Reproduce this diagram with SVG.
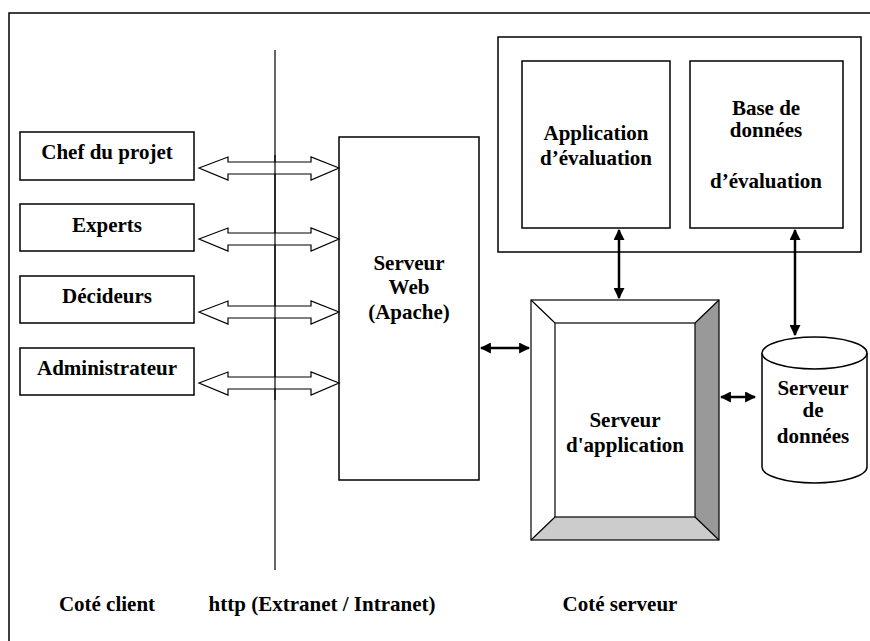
<svg xmlns="http://www.w3.org/2000/svg" width="870" height="641" viewBox="0 0 870 641">
<style>
text{font-weight:bold;font-size:21px;fill:#000;text-anchor:middle}
.box{fill:#fff;stroke:#000;stroke-width:1.5}
.thin{fill:none;stroke:#000;stroke-width:1.2}
.harrow{fill:#fff;stroke:#000;stroke-width:1.2;stroke-linejoin:miter}
.conn{fill:none;stroke:#000;stroke-width:2.5;marker-start:url(#ah);marker-end:url(#ah)}
</style>
<defs>
<marker id="ah" viewBox="0 0 10 10" refX="9" refY="5" markerWidth="4.4" markerHeight="4.4" orient="auto-start-reverse" markerUnits="strokeWidth">
<path d="M0,0 L10,5 L0,10 Z" fill="#000"/>
</marker>
</defs>
<rect id="frame" x="9" y="13" width="880" height="650" class="box"/>

<g id="client-chef"><rect x="20" y="132" width="174" height="48" class="box"/><text font-family="Liberation Serif" x="107" y="159">Chef du projet</text></g>
<g id="client-experts"><rect x="20" y="204" width="174" height="47" class="box"/><text font-family="Liberation Serif" x="107" y="232">Experts</text></g>
<g id="client-decideurs"><rect x="20" y="276" width="174" height="47" class="box"/><text font-family="Liberation Serif" x="107" y="303">Décideurs</text></g>
<g id="client-admin"><rect x="20" y="348" width="174" height="47" class="box"/><text font-family="Liberation Serif" x="107" y="375">Administrateur</text></g>

<g id="web-server"><rect x="339" y="137" width="140" height="343" class="box"/>
<text font-family="Liberation Serif" x="409" y="270">Serveur</text><text font-family="Liberation Serif" x="409" y="294">Web</text><text font-family="Liberation Serif" x="409" y="319">(Apache)</text></g>

<g id="eval-group"><rect x="498" y="37" width="363" height="215" class="box"/></g>
<g id="app-eval"><rect x="522" y="61" width="148" height="167" class="box"/>
<text font-family="Liberation Serif" x="596" y="140">Application</text><text font-family="Liberation Serif" x="596" y="165">d’évaluation</text></g>
<g id="db-eval"><rect x="690" y="61" width="153" height="167" class="box"/>
<text font-family="Liberation Serif" x="766" y="115">Base de</text><text font-family="Liberation Serif" x="766" y="137">données</text><text font-family="Liberation Serif" x="766" y="188">d’évaluation</text></g>

<g id="app-server">
<rect x="531" y="300" width="188" height="240" fill="#fff"/>
<polygon points="695,323 719,300 719,540 695,517" fill="#999"/>
<polygon points="555,517 695,517 719,540 531,540" fill="#ccc"/>
<rect x="531" y="300" width="188" height="240" class="thin" stroke-width="1.5"/>
<rect x="555" y="323" width="140" height="194" class="thin"/>
<path d="M531,300 L555,323 M719,300 L695,323 M531,540 L555,517 M719,540 L695,517" class="thin"/>
<text font-family="Liberation Serif" x="625" y="427">Serveur</text><text font-family="Liberation Serif" x="625" y="452">d'application</text>
</g>

<g id="data-server">
<path d="M762,353 L762,467 A52.5,16 0 0 0 867,467 L867,353" class="box"/>
<ellipse cx="814.5" cy="353" rx="52.5" ry="16" class="box"/>
<text font-family="Liberation Serif" x="813" y="395">Serveur</text><text font-family="Liberation Serif" x="813" y="417">de</text><text font-family="Liberation Serif" x="813" y="443">données</text>
</g>

<g id="connectors">
<line x1="275" y1="50" x2="275" y2="570" stroke="#000" stroke-width="1.2"/>
<path class="harrow" d="M199,168 L228,157 L228,162 L311,162 L311,157 L339,168 L311,180 L311,174 L228,174 L228,180 Z"/>
<path class="harrow" d="M199,239 L228,228 L228,233 L311,233 L311,228 L339,239 L311,251 L311,245 L228,245 L228,251 Z"/>
<path class="harrow" d="M199,312 L228,301 L228,306 L311,306 L311,301 L339,312 L311,324 L311,318 L228,318 L228,324 Z"/>
<path class="harrow" d="M199,383 L228,372 L228,377 L311,377 L311,372 L339,383 L311,395 L311,389 L228,389 L228,395 Z"/>
<line x1="275" y1="155" x2="275" y2="400" stroke="#000" stroke-width="1.2"/>
<line class="conn" x1="481" y1="348" x2="529" y2="348"/>
<line class="conn" x1="721" y1="397" x2="755" y2="397"/>
<line class="conn" x1="619" y1="230" x2="619" y2="298"/>
<line class="conn" x1="795" y1="230" x2="795" y2="335"/>
</g>

<g id="labels">
<text font-family="Liberation Serif" x="107" y="611">Coté client</text>
<text font-family="Liberation Serif" x="322" y="611">http (Extranet / Intranet)</text>
<text font-family="Liberation Serif" x="620" y="611">Coté serveur</text>
</g>
</svg>
